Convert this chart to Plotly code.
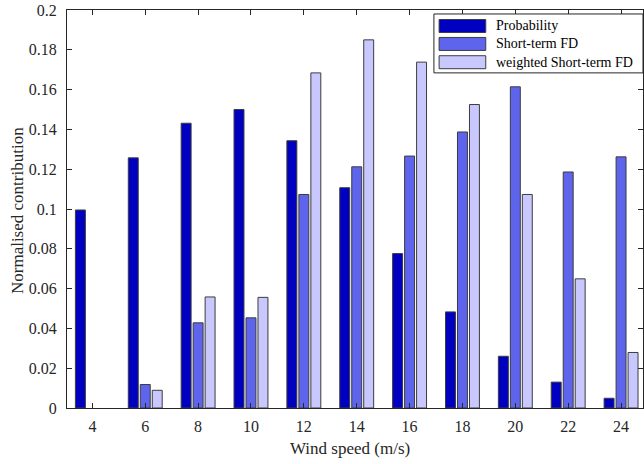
import plotly.graph_objects as go

wind_speed = [4, 6, 8, 10, 12, 14, 16, 18, 20, 22, 24]
probability = [0.0995, 0.1257, 0.1431, 0.1500, 0.1343, 0.1107, 0.0776, 0.0483, 0.0260, 0.0130, 0.0049]
short_term_fd = [0.0, 0.0118, 0.0428, 0.0453, 0.1073, 0.1212, 0.1266, 0.1387, 0.1614, 0.1186, 0.1262]
weighted_fd = [0.0, 0.0089, 0.0558, 0.0556, 0.1684, 0.1850, 0.1738, 0.1525, 0.1073, 0.0649, 0.0279]
y_ticks = [0, 0.02, 0.04, 0.06, 0.08, 0.1, 0.12, 0.14, 0.16, 0.18, 0.2]
y_tick_labels = ["0", "0.02", "0.04", "0.06", "0.08", "0.1", "0.12", "0.14", "0.16", "0.18", "0.2"]
series_names = ["Probability", "Short-term FD", "weighted Short-term FD"]
series_values = [probability, short_term_fd, weighted_fd]
series_colors = ["rgb(0,0,192)", "rgb(94,100,236)", "rgb(200,200,255)"]

FONT = "Liberation Serif"
TXT = "rgb(38,38,38)"
EDGE = "rgb(60,60,60)"

fig = go.Figure()
for name, vals, col in zip(series_names, series_values, series_colors):
    fig.add_trace(go.Bar(
        x=wind_speed, y=vals, name=name, showlegend=False,
        marker=dict(color=col, line=dict(color=EDGE, width=[1 if v > 0 else 0 for v in vals])),
    ))

axis_common = dict(
    showline=True, linecolor=TXT, linewidth=1, mirror="allticks",
    ticks="inside", ticklen=5, tickcolor=TXT, showgrid=False, zeroline=False,
    tickfont=dict(family=FONT, size=16, color=TXT),
)

# custom MATLAB-style legend (paper coordinates)
leg_x0, leg_x1, leg_y0, leg_y1 = 0.637, 1.0, 0.842, 0.990
row_y = [0.9598, 0.9147, 0.8688]
shapes = [dict(type="rect", xref="paper", yref="paper", x0=leg_x0, x1=leg_x1, y0=leg_y0, y1=leg_y1,
               line=dict(color=TXT, width=1), fillcolor="white", layer="above")]
annotations = []
for name, col, ry in zip(series_names, series_colors, row_y):
    shapes.append(dict(type="rect", xref="paper", yref="paper", x0=0.646, x1=0.727,
                       y0=ry - 0.0163, y1=ry + 0.0163, line=dict(color=EDGE, width=1),
                       fillcolor=col, layer="above"))
    annotations.append(dict(xref="paper", yref="paper", x=0.741, y=ry, xanchor="left", yanchor="middle",
                            text=name, showarrow=False, font=dict(family=FONT, size=14, color="black")))

annotations.append(dict(xref="paper", yref="paper", x=0.4905, y=-0.103, xanchor="center", yanchor="middle",
                        text="Wind speed (m/s)", showarrow=False, font=dict(family=FONT, size=17, color=TXT)))
annotations.append(dict(xref="paper", yref="paper", x=-0.085, y=0.495, xanchor="center", yanchor="middle",
                        text="Normalised contribution", textangle=-90, showarrow=False,
                        font=dict(family=FONT, size=17, color=TXT)))

fig.update_layout(
    width=644, height=464,
    margin=dict(l=67, r=1, t=10, b=56),
    paper_bgcolor="white", plot_bgcolor="white",
    barmode="group", bargap=0.32, bargroupgap=0.17,
    font=dict(family=FONT, size=16, color=TXT),
    xaxis=dict(range=[3.04, 24.83], tickvals=wind_speed, ticktext=[str(v) for v in wind_speed],
               ticklabelstandoff=4, **axis_common),
    yaxis=dict(range=[0, 0.2], tickvals=y_ticks, ticktext=y_tick_labels,
               ticklabelstandoff=6, **axis_common),
    shapes=shapes, annotations=annotations,
    showlegend=False,
)

fig.write_html("out.html")
